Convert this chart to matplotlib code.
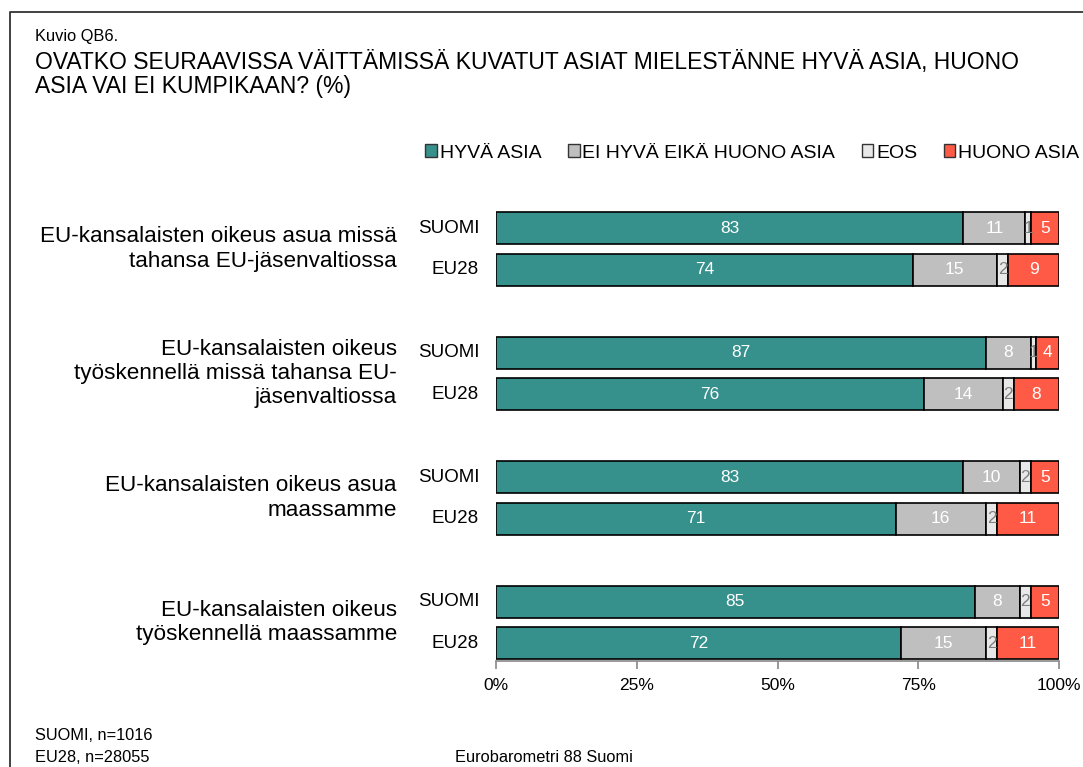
import matplotlib
matplotlib.use("Agg")
import matplotlib.pyplot as plt
from matplotlib.patches import Patch
from matplotlib.lines import Line2D

plt.rcParams['font.family'] = ['Liberation Sans', 'DejaVu Sans']

categories = [
    "EU-kansalaisten oikeus asua missä\ntahansa EU-jäsenvaltiossa",
    "EU-kansalaisten oikeus\ntyöskennellä missä tahansa EU-\njäsenvaltiossa",
    "EU-kansalaisten oikeus asua\nmaassamme",
    "EU-kansalaisten oikeus\ntyöskennellä maassamme",
]
groups = ["SUOMI", "EU28"]
series_names = ["HYVÄ ASIA", "EI HYVÄ EIKÄ HUONO ASIA", "EOS", "HUONO ASIA"]
# values per category: [SUOMI, EU28]
hyva = [[83, 74], [87, 76], [83, 71], [85, 72]]
ei_hyva = [[11, 15], [8, 14], [10, 16], [8, 15]]
eos = [[1, 2], [1, 2], [2, 2], [2, 2]]
huono = [[5, 9], [4, 8], [5, 11], [5, 11]]
xticks = [0, 25, 50, 75, 100]
xticklabels = ["0%", "25%", "50%", "75%", "100%"]

colors = ["#36908C", "#BFBFBF", "#E8E8E8", "#FF5A45"]
text_colors = ["white", "white", "#7F7F7F", "white"]

W, H = 1083, 767
fig = plt.figure(figsize=(W / 100, H / 100), dpi=100)

ax = fig.add_axes([496 / W, 1 - 661 / H, (1059 - 496) / W, (661 - 190) / H])

series = [hyva, ei_hyva, eos, huono]
group_step = 3.0
bar_h = 0.77
for ci in range(len(categories)):
    for gi in range(len(groups)):
        y = ci * group_step + gi
        left = 0
        for si, s in enumerate(series):
            v = s[ci][gi]
            ax.barh(y, v, left=left, height=bar_h, color=colors[si],
                    edgecolor="black", linewidth=1.2)
            ax.text(left + v / 2, y, str(v), ha="center", va="center",
                    color=text_colors[si], fontsize=12.5)
            left += v
        ax.text(-3.0, y, groups[gi], ha="right", va="center", fontsize=13.5)
    ax.text(-17.6, ci * group_step + 0.5, categories[ci], ha="right", va="center",
            fontsize=16.2, linespacing=1.2)

ax.set_xlim(0, 100)
ax.set_ylim(10.43, -0.92)
ax.set_yticks([])
for sp in ["top", "right", "left"]:
    ax.spines[sp].set_visible(False)
ax.spines["bottom"].set_color("#888888")
ax.spines["bottom"].set_linewidth(1.2)
ax.set_xticks(xticks)
ax.set_xticklabels(xticklabels, fontsize=12.5)
ax.tick_params(axis="x", direction="out", length=6, width=1.2, color="#888888", pad=6)

# legend
handles = [Patch(facecolor=c, edgecolor="#333333", linewidth=1.0) for c in colors]
fig.legend(handles, series_names, loc="center right",
           bbox_to_anchor=(1.0 + 4 / W, 1 - 153 / H), ncol=4, frameon=False,
           fontsize=14, handlelength=0.6, handleheight=0.6,
           handletextpad=0.15, columnspacing=1.35, borderaxespad=0)

# titles
fig.text(35 / W, 1 - 36 / H, "Kuvio QB6.", fontsize=11.8, va="center", ha="left")
fig.text(35 / W, 1 - 63 / H, "OVATKO SEURAAVISSA VÄITTÄMISSÄ KUVATUT ASIAT MIELESTÄNNE HYVÄ ASIA, HUONO",
         fontsize=16.5, va="center", ha="left")
fig.text(35 / W, 1 - 87 / H, "ASIA VAI EI KUMPIKAAN? (%)",
         fontsize=16.5, va="center", ha="left")

# footer
fig.text(35 / W, 1 - 735 / H, "SUOMI, n=1016", fontsize=11.8, va="center", ha="left")
fig.text(35 / W, 1 - 757 / H, "EU28, n=28055", fontsize=11.8, va="center", ha="left")
fig.text(455 / W, 1 - 757 / H, "Eurobarometri 88 Suomi", fontsize=11.8, va="center", ha="left")

# frame
fig.add_artist(Line2D([10 / W, 10 / W, 1.0], [0.0, 1 - 12 / H, 1 - 12 / H],
                      transform=fig.transFigure, color="#333333", linewidth=1.3))

fig.savefig("out.png", dpi=100)
